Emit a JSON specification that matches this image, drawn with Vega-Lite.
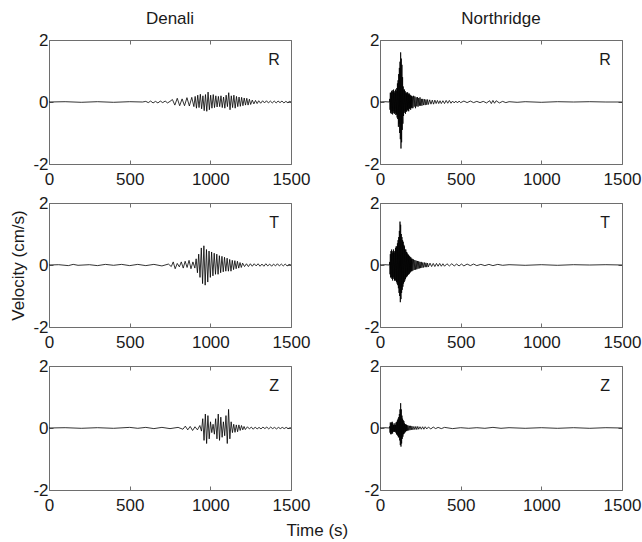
{
"$schema": "https://vega.github.io/schema/vega-lite/v6.json",
"padding": {"left": 9, "top": 9, "right": 10, "bottom": 5},
"background": "white",
"config": {
  "font": "Liberation Sans",
  "view": {"stroke": "#6e6e6e", "strokeWidth": 1},
  "axis": {"labelFont": "Liberation Sans", "labelFontSize": 17, "labelColor": "#1a1a1a", "labelFlush": false, "labelOverlap": false, "domain": false, "grid": false, "tickSize": -4, "tickColor": "#6e6e6e", "titleFont": "Liberation Sans", "titleFontSize": 17, "titleFontWeight": "normal", "titleColor": "#1a1a1a"},
  "axisX": {"labelPadding": 11},
  "axisY": {"labelPadding": 5},
  "title": {"font": "Liberation Sans", "fontSize": 17, "fontWeight": "normal", "color": "#1a1a1a", "offset": 3},
  "line": {"color": "black", "strokeWidth": 0.8}
},
"datasets": {
"DR": [{"t":0,"v":0},{"t":100,"v":0.01},{"t":200,"v":-0.01},{"t":300,"v":0.01},{"t":400,"v":-0.01},{"t":500,"v":0.01},{"t":580,"v":0},{"t":600,"v":0.02},{"t":615,"v":-0.02},{"t":630,"v":0.03},{"t":645,"v":-0.03},{"t":660,"v":0.02},{"t":675,"v":-0.03},{"t":690,"v":0.03},{"t":705,"v":-0.02},{"t":720,"v":0.03},{"t":735,"v":-0.03},{"t":750,"v":0.02},{"t":765,"v":0.08},{"t":780,"v":-0.1},{"t":795,"v":0.12},{"t":810,"v":-0.12},{"t":825,"v":0.1},{"t":840,"v":-0.12},{"t":855,"v":0.14},{"t":870,"v":-0.13},{"t":885,"v":0.15},{"t":898,"v":-0.15},{"t":906,"v":0.18},{"t":914,"v":-0.2},{"t":922,"v":0.22},{"t":930,"v":-0.18},{"t":938,"v":0.25},{"t":946,"v":-0.22},{"t":954,"v":0.2},{"t":962,"v":-0.28},{"t":970,"v":0.24},{"t":978,"v":-0.3},{"t":986,"v":0.32},{"t":994,"v":-0.25},{"t":1002,"v":0.22},{"t":1010,"v":-0.2},{"t":1018,"v":0.24},{"t":1026,"v":-0.18},{"t":1034,"v":0.2},{"t":1042,"v":-0.16},{"t":1050,"v":0.18},{"t":1058,"v":-0.15},{"t":1066,"v":0.2},{"t":1074,"v":-0.18},{"t":1082,"v":0.16},{"t":1090,"v":-0.2},{"t":1098,"v":0.22},{"t":1106,"v":-0.15},{"t":1114,"v":0.3},{"t":1122,"v":-0.25},{"t":1130,"v":0.2},{"t":1138,"v":-0.18},{"t":1146,"v":0.22},{"t":1154,"v":-0.2},{"t":1162,"v":0.18},{"t":1170,"v":-0.15},{"t":1178,"v":0.16},{"t":1186,"v":-0.14},{"t":1194,"v":0.15},{"t":1202,"v":-0.12},{"t":1210,"v":0.13},{"t":1218,"v":-0.1},{"t":1226,"v":0.12},{"t":1234,"v":-0.1},{"t":1242,"v":0.09},{"t":1250,"v":-0.08},{"t":1260,"v":0.06},{"t":1270,"v":-0.06},{"t":1280,"v":0.05},{"t":1290,"v":-0.05},{"t":1300,"v":0.04},{"t":1312,"v":-0.04},{"t":1324,"v":0.04},{"t":1336,"v":-0.03},{"t":1348,"v":0.04},{"t":1360,"v":-0.03},{"t":1372,"v":0.03},{"t":1384,"v":-0.03},{"t":1396,"v":0.03},{"t":1408,"v":-0.03},{"t":1420,"v":0.03},{"t":1432,"v":-0.02},{"t":1444,"v":0.03},{"t":1456,"v":-0.03},{"t":1468,"v":0.02},{"t":1480,"v":-0.02},{"t":1492,"v":0.02},{"t":1500,"v":0}],
"DT": [{"t":0,"v":0},{"t":60,"v":0.01},{"t":120,"v":-0.02},{"t":150,"v":0.02},{"t":180,"v":-0.01},{"t":250,"v":0.01},{"t":300,"v":-0.02},{"t":350,"v":0.02},{"t":400,"v":-0.01},{"t":450,"v":0.02},{"t":500,"v":-0.02},{"t":550,"v":0.02},{"t":600,"v":-0.02},{"t":650,"v":0.02},{"t":700,"v":-0.03},{"t":740,"v":0.03},{"t":758,"v":-0.05},{"t":770,"v":0.1},{"t":782,"v":-0.12},{"t":795,"v":0.05},{"t":808,"v":-0.06},{"t":820,"v":0.1},{"t":832,"v":-0.1},{"t":844,"v":0.12},{"t":856,"v":-0.08},{"t":868,"v":0.15},{"t":880,"v":-0.12},{"t":892,"v":0.1},{"t":904,"v":-0.1},{"t":912,"v":0.2},{"t":920,"v":-0.25},{"t":928,"v":0.35},{"t":936,"v":-0.4},{"t":944,"v":0.55},{"t":952,"v":-0.6},{"t":960,"v":0.62},{"t":968,"v":-0.65},{"t":976,"v":0.5},{"t":984,"v":-0.55},{"t":992,"v":0.45},{"t":1000,"v":-0.4},{"t":1008,"v":0.42},{"t":1016,"v":-0.35},{"t":1024,"v":0.38},{"t":1032,"v":-0.3},{"t":1040,"v":0.35},{"t":1048,"v":-0.3},{"t":1056,"v":0.3},{"t":1064,"v":-0.25},{"t":1072,"v":0.28},{"t":1080,"v":-0.22},{"t":1088,"v":0.25},{"t":1096,"v":-0.2},{"t":1104,"v":0.22},{"t":1112,"v":-0.2},{"t":1120,"v":0.18},{"t":1128,"v":-0.2},{"t":1136,"v":0.15},{"t":1144,"v":-0.15},{"t":1152,"v":0.14},{"t":1160,"v":-0.12},{"t":1168,"v":0.12},{"t":1176,"v":-0.1},{"t":1184,"v":0.08},{"t":1192,"v":-0.08},{"t":1200,"v":0.06},{"t":1212,"v":-0.05},{"t":1224,"v":0.04},{"t":1236,"v":-0.05},{"t":1248,"v":0.04},{"t":1260,"v":-0.04},{"t":1272,"v":0.04},{"t":1284,"v":-0.03},{"t":1296,"v":0.04},{"t":1308,"v":-0.04},{"t":1320,"v":0.03},{"t":1332,"v":-0.04},{"t":1344,"v":0.04},{"t":1356,"v":-0.03},{"t":1368,"v":0.03},{"t":1380,"v":-0.04},{"t":1392,"v":0.03},{"t":1404,"v":-0.03},{"t":1416,"v":0.04},{"t":1428,"v":-0.03},{"t":1440,"v":0.03},{"t":1452,"v":-0.03},{"t":1464,"v":0.03},{"t":1476,"v":-0.03},{"t":1488,"v":0.02},{"t":1500,"v":0}],
"DZ": [{"t":0,"v":0},{"t":100,"v":0.01},{"t":200,"v":-0.01},{"t":300,"v":0.01},{"t":400,"v":-0.01},{"t":500,"v":0.02},{"t":550,"v":-0.01},{"t":600,"v":0.02},{"t":650,"v":-0.02},{"t":700,"v":0.02},{"t":750,"v":-0.02},{"t":800,"v":0.02},{"t":830,"v":-0.04},{"t":845,"v":0.06},{"t":860,"v":-0.06},{"t":875,"v":0.05},{"t":890,"v":-0.08},{"t":905,"v":0.04},{"t":920,"v":-0.06},{"t":935,"v":0.08},{"t":945,"v":-0.1},{"t":953,"v":0.3},{"t":961,"v":-0.4},{"t":969,"v":0.45},{"t":977,"v":-0.5},{"t":985,"v":0.4},{"t":993,"v":-0.35},{"t":1001,"v":0.2},{"t":1009,"v":-0.15},{"t":1017,"v":0.12},{"t":1025,"v":-0.2},{"t":1033,"v":0.3},{"t":1041,"v":-0.35},{"t":1049,"v":0.45},{"t":1057,"v":-0.4},{"t":1065,"v":0.35},{"t":1073,"v":-0.3},{"t":1081,"v":0.2},{"t":1089,"v":-0.25},{"t":1097,"v":0.4},{"t":1105,"v":-0.5},{"t":1113,"v":0.6},{"t":1121,"v":-0.35},{"t":1129,"v":0.2},{"t":1137,"v":-0.15},{"t":1145,"v":0.12},{"t":1153,"v":-0.14},{"t":1161,"v":0.1},{"t":1169,"v":-0.12},{"t":1177,"v":0.1},{"t":1185,"v":-0.08},{"t":1193,"v":0.08},{"t":1201,"v":-0.06},{"t":1209,"v":0.05},{"t":1217,"v":-0.05},{"t":1230,"v":0.04},{"t":1242,"v":-0.03},{"t":1254,"v":0.03},{"t":1266,"v":-0.04},{"t":1278,"v":0.03},{"t":1290,"v":-0.03},{"t":1302,"v":0.02},{"t":1314,"v":-0.03},{"t":1326,"v":0.03},{"t":1338,"v":-0.02},{"t":1350,"v":0.03},{"t":1362,"v":-0.03},{"t":1374,"v":0.03},{"t":1386,"v":-0.02},{"t":1398,"v":0.02},{"t":1410,"v":-0.03},{"t":1422,"v":0.02},{"t":1434,"v":-0.02},{"t":1446,"v":0.02},{"t":1458,"v":-0.02},{"t":1470,"v":0.02},{"t":1482,"v":-0.02},{"t":1494,"v":0.01},{"t":1500,"v":0}],
"NR": [{"t":0,"v":0},{"t":30,"v":0.01},{"t":58,"v":0},{"t":60,"v":0.1},{"t":62,"v":-0.25},{"t":64,"v":0.3},{"t":66,"v":-0.35},{"t":68,"v":0.3},{"t":70,"v":-0.38},{"t":72,"v":0.35},{"t":74,"v":-0.3},{"t":76,"v":0.38},{"t":78,"v":-0.4},{"t":80,"v":0.32},{"t":82,"v":-0.36},{"t":84,"v":0.4},{"t":86,"v":-0.3},{"t":88,"v":0.35},{"t":90,"v":-0.38},{"t":92,"v":0.3},{"t":94,"v":-0.35},{"t":96,"v":0.4},{"t":98,"v":-0.42},{"t":100,"v":0.35},{"t":102,"v":-0.4},{"t":104,"v":0.45},{"t":106,"v":-0.5},{"t":108,"v":0.6},{"t":110,"v":-0.55},{"t":112,"v":0.7},{"t":114,"v":-0.8},{"t":116,"v":0.9},{"t":118,"v":-0.7},{"t":120,"v":1.1},{"t":122,"v":-1.0},{"t":124,"v":1.3},{"t":126,"v":-1.2},{"t":128,"v":1.6},{"t":130,"v":-1.5},{"t":132,"v":1.4},{"t":134,"v":-1.3},{"t":136,"v":1.2},{"t":138,"v":-0.9},{"t":140,"v":0.8},{"t":142,"v":-0.7},{"t":144,"v":0.5},{"t":146,"v":-0.45},{"t":148,"v":0.4},{"t":150,"v":-0.35},{"t":152,"v":0.4},{"t":154,"v":-0.3},{"t":156,"v":0.35},{"t":158,"v":-0.38},{"t":160,"v":0.3},{"t":162,"v":-0.32},{"t":164,"v":0.28},{"t":166,"v":-0.3},{"t":168,"v":0.32},{"t":170,"v":-0.25},{"t":172,"v":0.3},{"t":174,"v":-0.28},{"t":176,"v":0.25},{"t":178,"v":-0.3},{"t":180,"v":0.28},{"t":182,"v":-0.22},{"t":184,"v":0.25},{"t":186,"v":-0.2},{"t":188,"v":0.22},{"t":190,"v":-0.25},{"t":192,"v":0.2},{"t":194,"v":-0.18},{"t":196,"v":0.2},{"t":198,"v":-0.2},{"t":200,"v":0.18},{"t":204,"v":-0.2},{"t":208,"v":0.2},{"t":212,"v":-0.15},{"t":216,"v":0.18},{"t":220,"v":-0.2},{"t":224,"v":0.15},{"t":228,"v":-0.14},{"t":232,"v":0.16},{"t":236,"v":-0.15},{"t":240,"v":0.13},{"t":244,"v":-0.12},{"t":248,"v":0.15},{"t":252,"v":-0.12},{"t":256,"v":0.1},{"t":260,"v":-0.12},{"t":265,"v":0.1},{"t":270,"v":-0.1},{"t":275,"v":0.09},{"t":280,"v":-0.1},{"t":285,"v":0.08},{"t":290,"v":-0.09},{"t":295,"v":0.08},{"t":300,"v":-0.08},{"t":308,"v":0.07},{"t":316,"v":-0.07},{"t":324,"v":0.06},{"t":332,"v":-0.07},{"t":340,"v":0.06},{"t":348,"v":-0.05},{"t":356,"v":0.05},{"t":364,"v":-0.05},{"t":372,"v":0.04},{"t":380,"v":-0.05},{"t":390,"v":0.04},{"t":400,"v":-0.05},{"t":410,"v":0.05},{"t":420,"v":-0.04},{"t":430,"v":0.05},{"t":440,"v":-0.04},{"t":450,"v":0.03},{"t":460,"v":-0.03},{"t":470,"v":0.03},{"t":480,"v":-0.03},{"t":490,"v":0.03},{"t":500,"v":-0.02},{"t":520,"v":0.03},{"t":540,"v":-0.02},{"t":560,"v":0.03},{"t":580,"v":-0.02},{"t":600,"v":0.02},{"t":620,"v":-0.02},{"t":640,"v":0.02},{"t":660,"v":-0.03},{"t":680,"v":0.04},{"t":690,"v":-0.05},{"t":700,"v":0.05},{"t":710,"v":-0.04},{"t":720,"v":0.04},{"t":740,"v":-0.03},{"t":760,"v":0.02},{"t":780,"v":-0.02},{"t":800,"v":0.01},{"t":850,"v":-0.01},{"t":900,"v":0.01},{"t":1000,"v":-0.01},{"t":1100,"v":0.01},{"t":1200,"v":0},{"t":1300,"v":0.01},{"t":1400,"v":0},{"t":1500,"v":0}],
"NT": [{"t":0,"v":0},{"t":30,"v":0.01},{"t":58,"v":0},{"t":60,"v":0.1},{"t":62,"v":-0.3},{"t":64,"v":0.35},{"t":66,"v":-0.4},{"t":68,"v":0.45},{"t":70,"v":-0.4},{"t":72,"v":0.5},{"t":74,"v":-0.45},{"t":76,"v":0.4},{"t":78,"v":-0.5},{"t":80,"v":0.45},{"t":82,"v":-0.4},{"t":84,"v":0.5},{"t":86,"v":-0.45},{"t":88,"v":0.4},{"t":90,"v":-0.5},{"t":92,"v":0.45},{"t":94,"v":-0.5},{"t":96,"v":0.55},{"t":98,"v":-0.5},{"t":100,"v":0.6},{"t":102,"v":-0.55},{"t":104,"v":0.6},{"t":106,"v":-0.6},{"t":108,"v":0.7},{"t":110,"v":-0.65},{"t":112,"v":0.8},{"t":114,"v":-0.75},{"t":116,"v":0.9},{"t":118,"v":-0.9},{"t":120,"v":1.1},{"t":122,"v":-1.0},{"t":124,"v":1.4},{"t":126,"v":-1.2},{"t":128,"v":1.3},{"t":130,"v":-1.1},{"t":132,"v":1.0},{"t":134,"v":-0.9},{"t":136,"v":0.9},{"t":138,"v":-0.8},{"t":140,"v":0.8},{"t":142,"v":-0.7},{"t":144,"v":0.75},{"t":146,"v":-0.6},{"t":148,"v":0.65},{"t":150,"v":-0.55},{"t":152,"v":0.6},{"t":154,"v":-0.5},{"t":156,"v":0.5},{"t":158,"v":-0.45},{"t":160,"v":0.5},{"t":162,"v":-0.4},{"t":164,"v":0.42},{"t":166,"v":-0.38},{"t":168,"v":0.4},{"t":170,"v":-0.35},{"t":172,"v":0.35},{"t":174,"v":-0.32},{"t":176,"v":0.33},{"t":178,"v":-0.3},{"t":180,"v":0.3},{"t":182,"v":-0.28},{"t":184,"v":0.28},{"t":186,"v":-0.25},{"t":188,"v":0.25},{"t":190,"v":-0.22},{"t":192,"v":0.24},{"t":194,"v":-0.2},{"t":196,"v":0.2},{"t":198,"v":-0.2},{"t":200,"v":0.2},{"t":204,"v":-0.18},{"t":208,"v":0.18},{"t":212,"v":-0.16},{"t":216,"v":0.16},{"t":220,"v":-0.15},{"t":224,"v":0.14},{"t":228,"v":-0.14},{"t":232,"v":0.13},{"t":236,"v":-0.12},{"t":240,"v":0.12},{"t":244,"v":-0.11},{"t":248,"v":0.1},{"t":252,"v":-0.1},{"t":256,"v":0.1},{"t":260,"v":-0.09},{"t":265,"v":0.08},{"t":270,"v":-0.08},{"t":275,"v":0.08},{"t":280,"v":-0.07},{"t":285,"v":0.07},{"t":290,"v":-0.07},{"t":295,"v":0.06},{"t":300,"v":-0.06},{"t":310,"v":0.06},{"t":320,"v":-0.05},{"t":330,"v":0.05},{"t":340,"v":-0.05},{"t":350,"v":0.05},{"t":360,"v":-0.04},{"t":370,"v":0.05},{"t":380,"v":-0.04},{"t":390,"v":0.04},{"t":400,"v":-0.04},{"t":415,"v":0.04},{"t":430,"v":-0.03},{"t":445,"v":0.04},{"t":460,"v":-0.03},{"t":475,"v":0.03},{"t":490,"v":-0.03},{"t":505,"v":0.03},{"t":520,"v":-0.03},{"t":540,"v":0.03},{"t":560,"v":-0.02},{"t":580,"v":0.03},{"t":600,"v":-0.02},{"t":625,"v":0.02},{"t":650,"v":-0.02},{"t":675,"v":0.02},{"t":700,"v":-0.02},{"t":730,"v":0.02},{"t":760,"v":-0.01},{"t":800,"v":0.01},{"t":900,"v":-0.01},{"t":1000,"v":0.01},{"t":1100,"v":-0.01},{"t":1200,"v":0.01},{"t":1300,"v":0},{"t":1400,"v":0.01},{"t":1500,"v":0}],
"NZ": [{"t":0,"v":0},{"t":30,"v":0.01},{"t":58,"v":0},{"t":60,"v":0.05},{"t":62,"v":-0.15},{"t":64,"v":0.18},{"t":66,"v":-0.2},{"t":68,"v":0.15},{"t":70,"v":-0.2},{"t":72,"v":0.18},{"t":74,"v":-0.15},{"t":76,"v":0.2},{"t":78,"v":-0.18},{"t":80,"v":0.15},{"t":82,"v":-0.12},{"t":84,"v":0.1},{"t":86,"v":-0.12},{"t":88,"v":0.1},{"t":90,"v":-0.12},{"t":92,"v":0.15},{"t":94,"v":-0.12},{"t":96,"v":0.1},{"t":98,"v":-0.15},{"t":100,"v":0.18},{"t":102,"v":-0.2},{"t":104,"v":0.2},{"t":106,"v":-0.22},{"t":108,"v":0.25},{"t":110,"v":-0.25},{"t":112,"v":0.3},{"t":114,"v":-0.3},{"t":116,"v":0.35},{"t":118,"v":-0.3},{"t":120,"v":0.45},{"t":122,"v":-0.4},{"t":124,"v":0.6},{"t":126,"v":-0.55},{"t":128,"v":0.8},{"t":130,"v":-0.6},{"t":132,"v":0.6},{"t":134,"v":-0.5},{"t":136,"v":0.4},{"t":138,"v":-0.35},{"t":140,"v":0.3},{"t":142,"v":-0.28},{"t":144,"v":0.25},{"t":146,"v":-0.2},{"t":148,"v":0.22},{"t":150,"v":-0.18},{"t":152,"v":0.15},{"t":154,"v":-0.15},{"t":156,"v":0.12},{"t":158,"v":-0.12},{"t":160,"v":0.12},{"t":162,"v":-0.1},{"t":164,"v":0.1},{"t":166,"v":-0.1},{"t":168,"v":0.09},{"t":170,"v":-0.08},{"t":174,"v":0.08},{"t":178,"v":-0.08},{"t":182,"v":0.07},{"t":186,"v":-0.07},{"t":190,"v":0.07},{"t":194,"v":-0.06},{"t":198,"v":0.06},{"t":204,"v":-0.06},{"t":210,"v":0.05},{"t":216,"v":-0.05},{"t":222,"v":0.05},{"t":228,"v":-0.05},{"t":234,"v":0.05},{"t":240,"v":-0.04},{"t":248,"v":0.04},{"t":256,"v":-0.04},{"t":264,"v":0.04},{"t":272,"v":-0.04},{"t":280,"v":0.04},{"t":290,"v":-0.03},{"t":300,"v":0.03},{"t":315,"v":-0.03},{"t":330,"v":0.03},{"t":345,"v":-0.02},{"t":360,"v":0.02},{"t":380,"v":-0.02},{"t":400,"v":0.02},{"t":450,"v":-0.02},{"t":500,"v":0.01},{"t":550,"v":-0.01},{"t":600,"v":0.01},{"t":650,"v":-0.01},{"t":700,"v":0.02},{"t":750,"v":-0.01},{"t":800,"v":0.01},{"t":900,"v":-0.01},{"t":1000,"v":0.01},{"t":1100,"v":-0.01},{"t":1200,"v":0.01},{"t":1300,"v":-0.01},{"t":1400,"v":0.01},{"t":1500,"v":0}]
},
"title": {"text": "Time (s)", "orient": "bottom", "anchor": "middle", "offset": 9, "dx": -8, "fontSize": 17},
"columns": 2,
"spacing": {"row": 39, "column": 89},
"bounds": "flush",
"concat": [
  {"width": 242, "height": 124, "title": "Denali", "resolve": {"axis": {"x": "independent", "y": "independent"}}, "layer": [
   {"data": {"name": "DR"}, "mark": "line", "encoding": {"x": {"field": "t", "type": "quantitative", "scale": {"domain": [0, 1500], "nice": false}, "axis": {"values": [0, 500, 1000, 1500], "title": null, "labelExpr": "'' + datum.value"}}, "y": {"field": "v", "type": "quantitative", "scale": {"domain": [-2, 2], "nice": false}, "axis": {"values": [-2, 0, 2], "title": null, "labelExpr": "'' + datum.value"}}}},
   {"data": {"values": [{}]}, "mark": {"type": "text", "fontSize": 16, "font": "Liberation Sans", "color": "#1a1a1a"}, "encoding": {"x": {"datum": 1395, "type": "quantitative", "axis": {"orient": "top", "labels": false, "title": null, "values": [0, 500, 1000, 1500]}}, "y": {"datum": 1.35, "type": "quantitative", "axis": {"orient": "right", "labels": false, "title": null, "values": [-2, 0, 2]}}, "text": {"value": "R"}}}
  ]},
  {"width": 242, "height": 124, "title": "Northridge", "resolve": {"axis": {"x": "independent", "y": "independent"}}, "layer": [
   {"data": {"name": "NR"}, "mark": "line", "encoding": {"x": {"field": "t", "type": "quantitative", "scale": {"domain": [0, 1500], "nice": false}, "axis": {"values": [0, 500, 1000, 1500], "title": null, "labelExpr": "'' + datum.value"}}, "y": {"field": "v", "type": "quantitative", "scale": {"domain": [-2, 2], "nice": false}, "axis": {"values": [-2, 0, 2], "title": null, "labelExpr": "'' + datum.value"}}}},
   {"data": {"values": [{}]}, "mark": {"type": "text", "fontSize": 16, "font": "Liberation Sans", "color": "#1a1a1a"}, "encoding": {"x": {"datum": 1395, "type": "quantitative", "axis": {"orient": "top", "labels": false, "title": null, "values": [0, 500, 1000, 1500]}}, "y": {"datum": 1.35, "type": "quantitative", "axis": {"orient": "right", "labels": false, "title": null, "values": [-2, 0, 2]}}, "text": {"value": "R"}}}
  ]},
  {"width": 242, "height": 124, "resolve": {"axis": {"x": "independent", "y": "independent"}}, "layer": [
   {"data": {"name": "DT"}, "mark": "line", "encoding": {"x": {"field": "t", "type": "quantitative", "scale": {"domain": [0, 1500], "nice": false}, "axis": {"values": [0, 500, 1000, 1500], "title": null, "labelExpr": "'' + datum.value"}}, "y": {"field": "v", "type": "quantitative", "scale": {"domain": [-2, 2], "nice": false}, "axis": {"values": [-2, 0, 2], "title": "Velocity (cm/s)", "titlePadding": 5, "labelExpr": "'' + datum.value"}}}},
   {"data": {"values": [{}]}, "mark": {"type": "text", "fontSize": 16, "font": "Liberation Sans", "color": "#1a1a1a"}, "encoding": {"x": {"datum": 1395, "type": "quantitative", "axis": {"orient": "top", "labels": false, "title": null, "values": [0, 500, 1000, 1500]}}, "y": {"datum": 1.35, "type": "quantitative", "axis": {"orient": "right", "labels": false, "title": null, "values": [-2, 0, 2]}}, "text": {"value": "T"}}}
  ]},
  {"width": 242, "height": 124, "resolve": {"axis": {"x": "independent", "y": "independent"}}, "layer": [
   {"data": {"name": "NT"}, "mark": "line", "encoding": {"x": {"field": "t", "type": "quantitative", "scale": {"domain": [0, 1500], "nice": false}, "axis": {"values": [0, 500, 1000, 1500], "title": null, "labelExpr": "'' + datum.value"}}, "y": {"field": "v", "type": "quantitative", "scale": {"domain": [-2, 2], "nice": false}, "axis": {"values": [-2, 0, 2], "title": null, "labelExpr": "'' + datum.value"}}}},
   {"data": {"values": [{}]}, "mark": {"type": "text", "fontSize": 16, "font": "Liberation Sans", "color": "#1a1a1a"}, "encoding": {"x": {"datum": 1395, "type": "quantitative", "axis": {"orient": "top", "labels": false, "title": null, "values": [0, 500, 1000, 1500]}}, "y": {"datum": 1.35, "type": "quantitative", "axis": {"orient": "right", "labels": false, "title": null, "values": [-2, 0, 2]}}, "text": {"value": "T"}}}
  ]},
  {"width": 242, "height": 124, "resolve": {"axis": {"x": "independent", "y": "independent"}}, "layer": [
   {"data": {"name": "DZ"}, "mark": "line", "encoding": {"x": {"field": "t", "type": "quantitative", "scale": {"domain": [0, 1500], "nice": false}, "axis": {"values": [0, 500, 1000, 1500], "title": null, "labelExpr": "'' + datum.value"}}, "y": {"field": "v", "type": "quantitative", "scale": {"domain": [-2, 2], "nice": false}, "axis": {"values": [-2, 0, 2], "title": null, "labelExpr": "'' + datum.value"}}}},
   {"data": {"values": [{}]}, "mark": {"type": "text", "fontSize": 16, "font": "Liberation Sans", "color": "#1a1a1a"}, "encoding": {"x": {"datum": 1395, "type": "quantitative", "axis": {"orient": "top", "labels": false, "title": null, "values": [0, 500, 1000, 1500]}}, "y": {"datum": 1.35, "type": "quantitative", "axis": {"orient": "right", "labels": false, "title": null, "values": [-2, 0, 2]}}, "text": {"value": "Z"}}}
  ]},
  {"width": 242, "height": 124, "resolve": {"axis": {"x": "independent", "y": "independent"}}, "layer": [
   {"data": {"name": "NZ"}, "mark": "line", "encoding": {"x": {"field": "t", "type": "quantitative", "scale": {"domain": [0, 1500], "nice": false}, "axis": {"values": [0, 500, 1000, 1500], "title": null, "labelExpr": "'' + datum.value"}}, "y": {"field": "v", "type": "quantitative", "scale": {"domain": [-2, 2], "nice": false}, "axis": {"values": [-2, 0, 2], "title": null, "labelExpr": "'' + datum.value"}}}},
   {"data": {"values": [{}]}, "mark": {"type": "text", "fontSize": 16, "font": "Liberation Sans", "color": "#1a1a1a"}, "encoding": {"x": {"datum": 1395, "type": "quantitative", "axis": {"orient": "top", "labels": false, "title": null, "values": [0, 500, 1000, 1500]}}, "y": {"datum": 1.35, "type": "quantitative", "axis": {"orient": "right", "labels": false, "title": null, "values": [-2, 0, 2]}}, "text": {"value": "Z"}}}
  ]}
]
}
